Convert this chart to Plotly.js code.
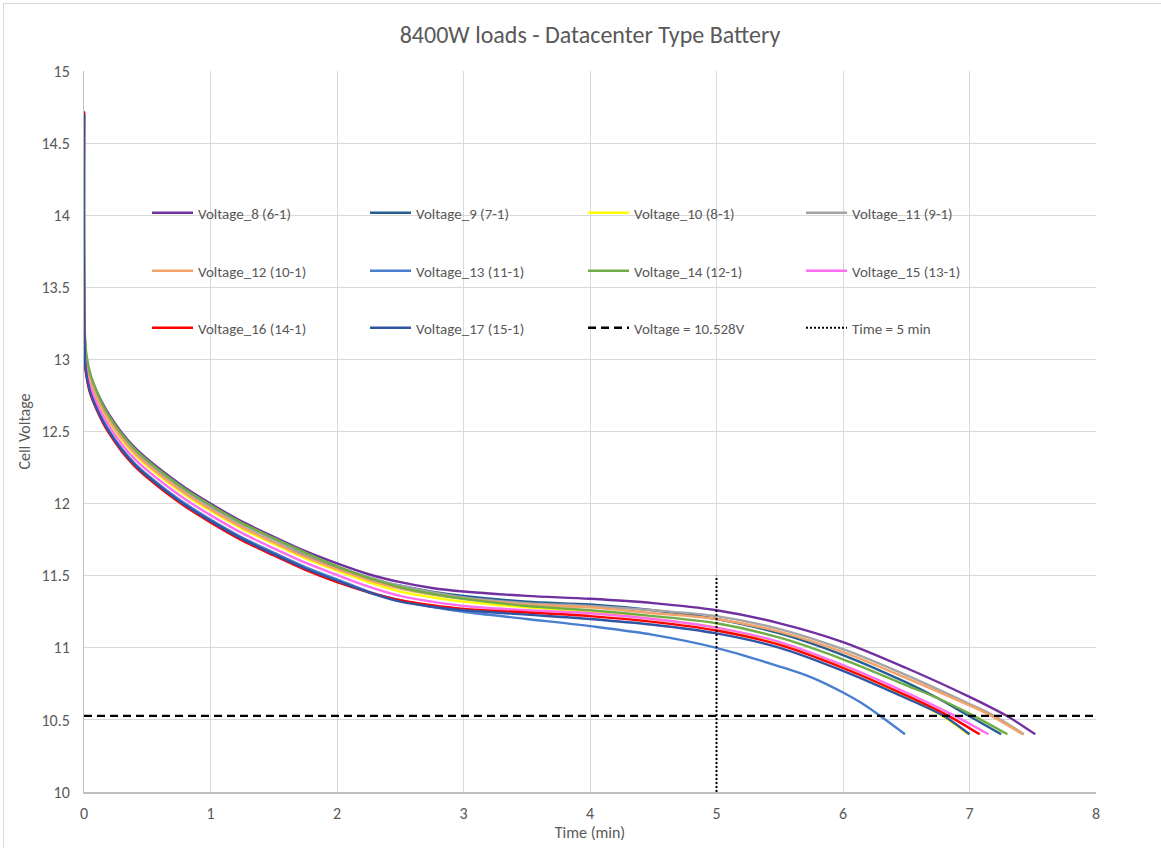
<!DOCTYPE html>
<html>
<head>
<meta charset="utf-8">
<script src="https://cdn.plot.ly/plotly-3.0.1.min.js"></script>
<style>
  html, body { margin: 0; padding: 0; background: #fff; overflow: hidden; }
  #chart { width: 1161px; height: 848px; }
  #frame { position: absolute; left: 3px; top: 3px; width: 1300px; height: 1000px;
           border: 1px solid #D9D9D9; pointer-events: none; }
</style>
</head>
<body>
<div id="chart"></div>
<div id="frame"></div>
<script>
// ---- Data ----
const timeBase = [0, 0.008, 0.02, 0.05, 0.1, 0.15, 0.2, 0.3, 0.4, 0.5, 0.65, 0.8, 1, 1.25, 1.5, 1.75, 2, 2.25, 2.5, 2.75, 3, 3.5, 4, 4.5, 5, 5.5, 6, 6.5];

const v8  = [14.72, 13.12, 13.00, 12.89, 12.78, 12.69, 12.615, 12.49, 12.39, 12.31, 12.205, 12.11, 12.00, 11.875, 11.77, 11.67, 11.585, 11.51, 11.455, 11.415, 11.39, 11.36, 11.34, 11.31, 11.26, 11.17, 11.04, 10.86];
const t8tail = [7.0, 7.29, 7.52];
const v8tail = [10.66, 10.53, 10.40];

const v9  = [14.70, 13.08, 12.96, 12.85, 12.74, 12.65, 12.575, 12.45, 12.35, 12.27, 12.165, 12.07, 11.96, 11.835, 11.73, 11.635, 11.55, 11.48, 11.43, 11.39, 11.36, 11.32, 11.30, 11.26, 11.20, 11.10, 10.95, 10.76];
const t9tail = [6.75, 6.99, 7.25];
const v9tail = [10.65, 10.53, 10.40];

const v10 = [14.70, 13.08, 12.95, 12.84, 12.73, 12.64, 12.565, 12.44, 12.34, 12.26, 12.155, 12.06, 11.95, 11.825, 11.72, 11.62, 11.535, 11.455, 11.39, 11.35, 11.32, 11.28, 11.25, 11.20, 11.14, 11.03, 10.87, 10.66];
const t10tail = [6.78, 6.99];
const v10tail = [10.53, 10.40];

const v11 = [14.70, 13.10, 12.98, 12.87, 12.76, 12.67, 12.595, 12.47, 12.37, 12.29, 12.185, 12.09, 11.98, 11.855, 11.75, 11.65, 11.565, 11.49, 11.43, 11.385, 11.35, 11.31, 11.29, 11.26, 11.22, 11.13, 10.99, 10.81];
const t11tail = [7.0, 7.19, 7.43];
const v11tail = [10.61, 10.53, 10.40];

const v12 = [14.70, 13.08, 12.96, 12.85, 12.74, 12.65, 12.575, 12.45, 12.35, 12.27, 12.165, 12.07, 11.96, 11.835, 11.73, 11.63, 11.545, 11.47, 11.41, 11.37, 11.34, 11.30, 11.28, 11.24, 11.20, 11.11, 10.97, 10.79];
const t12tail = [7.0, 7.17, 7.42];
const v12tail = [10.60, 10.53, 10.40];

const v13 = [14.70, 13.00, 12.90, 12.78, 12.67, 12.58, 12.505, 12.38, 12.28, 12.20, 12.095, 12.00, 11.89, 11.765, 11.66, 11.56, 11.475, 11.39, 11.33, 11.285, 11.25, 11.20, 11.15, 11.09, 11.00, 10.87];
const t13tail = [5.75, 6.0, 6.15, 6.29, 6.49];
const v13tail = [10.795, 10.69, 10.615, 10.53, 10.40];

const v14 = [14.70, 13.16, 13.03, 12.90, 12.78, 12.68, 12.605, 12.48, 12.38, 12.30, 12.195, 12.10, 11.99, 11.865, 11.76, 11.66, 11.565, 11.485, 11.42, 11.375, 11.34, 11.29, 11.26, 11.22, 11.17, 11.07, 10.92, 10.74];
const t14tail = [6.75, 7.03, 7.30];
const v14tail = [10.65, 10.53, 10.40];

const v15 = [14.70, 13.02, 12.92, 12.81, 12.70, 12.61, 12.535, 12.41, 12.31, 12.23, 12.125, 12.03, 11.92, 11.795, 11.69, 11.59, 11.505, 11.425, 11.36, 11.32, 11.29, 11.26, 11.24, 11.20, 11.14, 11.04, 10.88, 10.69];
const t15tail = [6.88, 7.15];
const v15tail = [10.53, 10.40];

const v16 = [14.72, 12.97, 12.88, 12.76, 12.65, 12.56, 12.485, 12.36, 12.26, 12.18, 12.075, 11.98, 11.87, 11.745, 11.64, 11.54, 11.455, 11.385, 11.33, 11.295, 11.27, 11.245, 11.22, 11.18, 11.12, 11.02, 10.86, 10.67];
const t16tail = [6.83, 7.08];
const v16tail = [10.53, 10.40];

const v17 = [14.70, 12.99, 12.89, 12.77, 12.66, 12.57, 12.495, 12.37, 12.27, 12.19, 12.085, 11.99, 11.88, 11.755, 11.65, 11.55, 11.465, 11.385, 11.32, 11.285, 11.26, 11.23, 11.20, 11.16, 11.10, 11.00, 10.84, 10.65];
const t17tail = [6.79, 7.00];
const v17tail = [10.53, 10.40];

const seriesNames = ["Voltage_8 (6-1)", "Voltage_9 (7-1)", "Voltage_10 (8-1)", "Voltage_11 (9-1)",
                     "Voltage_12 (10-1)", "Voltage_13 (11-1)", "Voltage_14 (12-1)", "Voltage_15 (13-1)",
                     "Voltage_16 (14-1)", "Voltage_17 (15-1)"];
const cutoffVoltage = 10.528;
const cutoffTime = 5;
const refLineX = [0, 8];
const refLineY = [10, 11.5];

// ---- Styles ----
const colors = ["#7030A0", "#255E91", "#FFFF00", "#A5A5A5", "#F4A36A", "#4A7FD0", "#70AD47", "#FF6EF0", "#FF0000", "#2F55A4"];
const legendIds = ["legend", "legend", "legend", "legend", "legend2", "legend2", "legend2", "legend2", "legend3", "legend3"];

const vals = [v8, v9, v10, v11, v12, v13, v14, v15, v16, v17];
const tailsT = [t8tail, t9tail, t10tail, t11tail, t12tail, t13tail, t14tail, t15tail, t16tail, t17tail];
const tailsV = [v8tail, v9tail, v10tail, v11tail, v12tail, v13tail, v14tail, v15tail, v16tail, v17tail];

const traces = [];
for (let i = 0; i < vals.length; i++) {
  const x = timeBase.slice(0, vals[i].length).concat(tailsT[i]);
  const y = vals[i].concat(tailsV[i]);
  traces.push({
    x: x, y: y, type: "scatter", mode: "lines", name: seriesNames[i],
    line: { color: colors[i], width: 2.4, shape: "spline", smoothing: 0.9 },
    legend: legendIds[i]
  });
}
traces.push({
  x: refLineX, y: [cutoffVoltage, cutoffVoltage], type: "scatter", mode: "lines",
  name: "Voltage = 10.528V", line: { color: "#000000", width: 2.4, dash: "8px,5px" }, legend: "legend3"
});
traces.push({
  x: [cutoffTime, cutoffTime], y: refLineY, type: "scatter", mode: "lines",
  name: "Time = 5 min", line: { color: "#000000", width: 2, dash: "2px,2px" }, legend: "legend3"
});

const fontFam = "Carlito, Calibri, 'Liberation Sans', Arial, sans-serif";
const legBase = {
  orientation: "h", xanchor: "left", yanchor: "middle",
  bgcolor: "rgba(0,0,0,0)", entrywidth: 162, entrywidthmode: "pixels", itemwidth: 41,
  font: { family: fontFam, size: 15, color: "#595959" }, traceorder: "normal"
};
const L = 84, R = 1096, T = 71, B = 792;
const px2x = px => (px - L) / (R - L);
const py2y = py => (B - py) / (B - T);

const layout = {
  width: 1161, height: 848,
  margin: { l: L, r: 1161 - R, t: T, b: 848 - B, pad: 0 },
  paper_bgcolor: "#ffffff", plot_bgcolor: "#ffffff",
  font: { family: fontFam, color: "#595959", size: 16 },
  title: { text: "8400W loads - Datacenter Type Battery", x: 0.5, xref: "paper", y: 1 - 35 / 848, yanchor: "middle",
           font: { family: fontFam, size: 24, color: "#595959" } },
  xaxis: {
    range: [0, 8], tickmode: "array", tickvals: [0,1,2,3,4,5,6,7,8], ticktext: ["0","1","2","3","4","5","6","7","8"],
    showgrid: true, gridcolor: "#D9D9D9", gridwidth: 1, zeroline: false,
    showline: true, linecolor: "#BFBFBF", linewidth: 1.5, ticks: "", automargin: false,
    tickfont: { family: fontFam, size: 16, color: "#595959" }, ticklabelstandoff: 6,
    title: { text: "Time (min)", font: { family: fontFam, size: 16, color: "#595959" }, standoff: 4 }
  },
  yaxis: {
    range: [10, 15], tickmode: "array",
    tickvals: [10,10.5,11,11.5,12,12.5,13,13.5,14,14.5,15],
    ticktext: ["10","10.5","11","11.5","12","12.5","13","13.5","14","14.5","15"],
    showgrid: true, gridcolor: "#D9D9D9", gridwidth: 1, zeroline: false,
    showline: true, linecolor: "#BFBFBF", linewidth: 1, ticks: "", automargin: false,
    tickfont: { family: fontFam, size: 16, color: "#595959" }, ticklabelstandoff: 10,
    title: { text: "Cell Voltage", font: { family: fontFam, size: 16, color: "#595959" }, standoff: 6 }
  },
  legend:  Object.assign({}, legBase, { x: px2x(147), y: py2y(213) }),
  legend2: Object.assign({}, legBase, { x: px2x(147), y: py2y(271) }),
  legend3: Object.assign({}, legBase, { x: px2x(147), y: py2y(328) }),
  showlegend: true
};

Plotly.newPlot("chart", traces, layout, { staticPlot: true, displayModeBar: false });
</script>
</body>
</html>
